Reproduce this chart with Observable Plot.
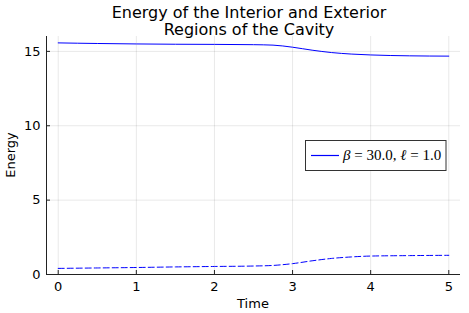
<!DOCTYPE html>
<html>
<head>
<meta charset="utf-8">
<script src="https://cdn.jsdelivr.net/npm/d3@7"></script>
<script src="https://cdn.jsdelivr.net/npm/@observablehq/plot@0.6"></script>
<style>
  html, body { margin: 0; padding: 0; background: #fff; }
  #chart svg { display: block; }
</style>
</head>
<body>
<div id="chart"></div>
<script>
const titleLines = ["Energy of the Interior and Exterior", "Regions of the Cavity"];
const xLabel = "Time";
const yLabel = "Energy";
const xTicks = [0, 1, 2, 3, 4, 5];
const yTicks = [0, 5, 10, 15];
const time =     [0,     0.5,   1,     1.5,   2,     2.5,   2.75,  3,     3.25,  3.5,   3.75,  4,     4.5,   5];
const interior = [15.57, 15.53, 15.50, 15.48, 15.47, 15.45, 15.42, 15.28, 15.08, 14.92, 14.82, 14.76, 14.70, 14.68];
const exterior = [0.41,  0.44,  0.47,  0.51,  0.54,  0.57,  0.61,  0.73,  0.92,  1.08,  1.18,  1.24,  1.27,  1.29];
const legendLabel = "β = 30.0, ℓ = 1.0";

const interiorData = time.map((t, i) => ({t, v: interior[i]}));
const exteriorData = time.map((t, i) => ({t, v: exterior[i]}));

const xDomain = [-0.15, 5.15];
const yDomain = [0, 16];
const W = 469, H = 313;
const mL = 46, mR = 9, mT = 36, mB = 39;
const plotH = H - mT - mB;
const font = "DejaVu Sans, sans-serif";

const chart = Plot.plot({
  width: W, height: H,
  marginLeft: mL, marginRight: mR, marginTop: mT, marginBottom: mB,
  style: {fontFamily: font, fontSize: "13px", color: "#000", background: "#fff"},
  x: {domain: xDomain, ticks: xTicks},
  y: {domain: yDomain, ticks: yTicks},
  marks: [
    Plot.gridX(xTicks, {stroke: "#000", strokeOpacity: 0.09, strokeWidth: 1}),
    Plot.gridY(yTicks, {stroke: "#000", strokeOpacity: 0.09, strokeWidth: 1}),
    Plot.ruleX([xDomain[0]], {stroke: "#222", strokeWidth: 1}),
    Plot.ruleY([yDomain[0]], {stroke: "#222", strokeWidth: 1}),
    Plot.tickX(xTicks, {x: d => d, stroke: "#222", insetTop: plotH - 4}),
    Plot.tickY(yTicks, {y: d => d, stroke: "#222", insetRight: W - mL - mR - 4}),
    Plot.axisX(xTicks, {tickSize: 0, tickPadding: 7, fontSize: 13, label: null}),
    Plot.axisY(yTicks, {tickSize: 0, tickPadding: 6, fontSize: 13, label: null}),
    Plot.line(interiorData, {x: "t", y: "v", stroke: "#0000ff", strokeWidth: 1, curve: "monotone-x"}),
    Plot.line(exteriorData, {x: "t", y: "v", stroke: "#0000ff", strokeWidth: 1, strokeDasharray: "6,3", curve: "monotone-x"})
  ]
});

document.getElementById("chart").appendChild(chart);

const svg = d3.select(chart);
// title
svg.append("text").attr("x", 249).attr("y", 17.6).attr("text-anchor", "middle")
  .attr("font-family", font).attr("font-size", 16).attr("fill", "#000").text(titleLines[0]);
svg.append("text").attr("x", 249).attr("y", 35.4).attr("text-anchor", "middle")
  .attr("font-family", font).attr("font-size", 16).attr("fill", "#000").text(titleLines[1]);
// axis labels
svg.append("text").attr("x", (mL + W - mR) / 2).attr("y", 308).attr("text-anchor", "middle")
  .attr("font-family", font).attr("font-size", 13).attr("fill", "#000").text(xLabel);
svg.append("text").attr("transform", `translate(14.5,${mT + plotH / 2}) rotate(-90)`).attr("text-anchor", "middle")
  .attr("font-family", font).attr("font-size", 13).attr("fill", "#000").text(yLabel);
// legend
const lg = svg.append("g");
lg.append("rect").attr("x", 305.5).attr("y", 140.5).attr("width", 140.5).attr("height", 30)
  .attr("fill", "#fff").attr("stroke", "#333").attr("stroke-width", 1);
lg.append("line").attr("x1", 311).attr("x2", 339).attr("y1", 155.5).attr("y2", 155.5)
  .attr("stroke", "#0000ff").attr("stroke-width", 1.2);
const lt = lg.append("text").attr("x", 343).attr("y", 160).attr("text-anchor", "start")
  .attr("font-family", "Liberation Serif, DejaVu Serif, serif").attr("font-size", 15).attr("fill", "#000");
const parts = legendLabel.split(/(β|ℓ)/);
parts.forEach(p => {
  if (!p) return;
  const ts = lt.append("tspan").text(p);
  if (p === "β" || p === "ℓ") ts.attr("font-style", "italic");
});
</script>
</body>
</html>
